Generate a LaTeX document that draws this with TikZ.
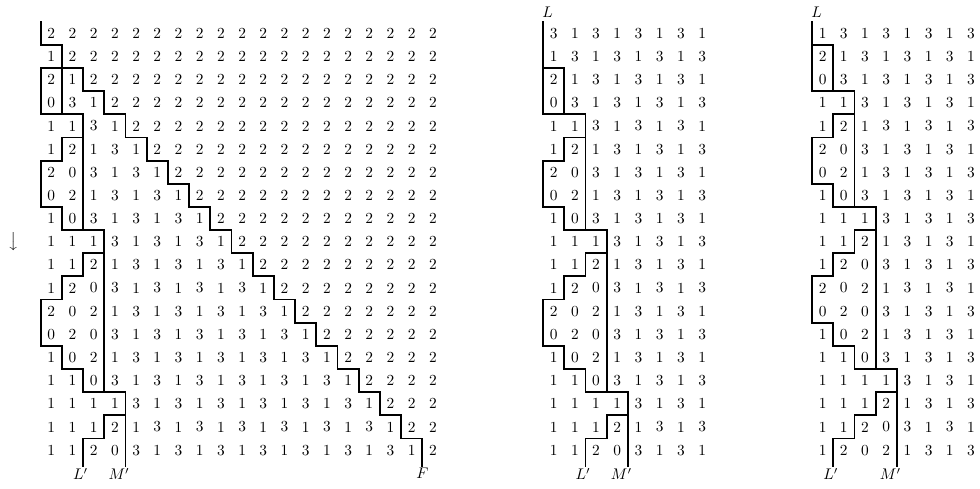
\documentclass[tikz,border=0pt]{standalone}
\begin{document}
\begin{tikzpicture}[x=0.65pt,y=-0.65pt]
\tikzset{
  cell/.style={inner sep=0pt},
  wall/.style={line width=1.2pt, line cap=rect, line join=miter},
  lab/.style={inner sep=0pt},
}
\useasboundingbox (0,0) rectangle (980,488);
\node[inner sep=0pt] (arrow) at (14,241.5) {$\big\downarrow$};

% ---------- left grid ----------
\begin{scope}[shift={(26.455pt,-14.105pt)}, x=13.78pt, y=-15.05pt]
  \foreach \ri in {0,...,18} {
    \foreach \ci in {\ri,...,18} {
      \node[cell] (a-\ri-\ci) at (\ci+0.5,\ri+0.5) {2};
    }
  }
  \foreach \pre [count=\ri from 1] in {{1},{2,1},{0,3,1},{1,1,3,1},{1,2,1,3,1},
     {2,0,3,1,3,1},{0,2,1,3,1,3,1},{1,0,3,1,3,1,3,1},{1,1,1,3,1,3,1,3,1},
     {1,1,2,1,3,1,3,1,3,1},{1,2,0,3,1,3,1,3,1,3,1},{2,0,2,1,3,1,3,1,3,1,3,1},
     {0,2,0,3,1,3,1,3,1,3,1,3,1},{1,0,2,1,3,1,3,1,3,1,3,1,3,1},
     {1,1,0,3,1,3,1,3,1,3,1,3,1,3,1},{1,1,1,1,3,1,3,1,3,1,3,1,3,1,3,1},
     {1,1,1,2,1,3,1,3,1,3,1,3,1,3,1,3,1},{1,1,2,0,3,1,3,1,3,1,3,1,3,1,3,1,3,1}} {
    \foreach \v [count=\ci from 0] in \pre {
      \node[cell] (a-\ri-\ci) at (\ci+0.5,\ri+0.5) {\v};
    }
  }
  \coordinate (aF) at (18,19.2);
  \coordinate (aL) at (2,19.2);
  \coordinate (aM) at (4,19.2);
  \draw[wall] (0,0) \foreach \i in {0,...,17} { -- (\i,\i+1) -- (\i+1,\i+1) } -- (aF);
  \draw[wall] (1,2) -- (1,4) -- (2,4) -- (2,9) -- (3,9) -- (3,16) -- (4,16) -- (aM);
  \draw[wall] (1,2) -- (0,2) -- (0,4) -- (1,4);
  \draw[wall] (2,5) -- (1,5) -- (1,6) -- (0,6) -- (0,8) -- (1,8) -- (1,9) -- (2,9);
  \draw[wall] (3,10) -- (2,10) -- (2,11) -- (1,11) -- (1,12) -- (0,12) -- (0,14)
     -- (1,14) -- (1,15) -- (2,15) -- (2,16) -- (3,16);
  \draw[wall] (4,17) -- (3,17) -- (3,18) -- (2,18) -- (aL);
  \node[lab, anchor=north] (aFl) at ([yshift=-1pt]aF) {$F$};
  \node[lab, anchor=north east] (aLl) at ([xshift=3.4pt,yshift=-1pt]aL) {$L'$};
  \node[lab, anchor=north east] (aMl) at ([xshift=2.8pt,yshift=-1pt]aM) {$M'$};
\end{scope}

% ---------- middle grid ----------
\begin{scope}[shift={(353.0pt,-14.105pt)}, x=13.78pt, y=-15.05pt]
  \foreach \pre [count=\ri from 0] in {{3,1,3,1,3,1,3,1},{1,3,1,3,1,3,1,3},
     {2,1,3,1,3,1,3,1},{0,3,1,3,1,3,1,3},{1,1,3,1,3,1,3,1},{1,2,1,3,1,3,1,3},
     {2,0,3,1,3,1,3,1},{0,2,1,3,1,3,1,3},{1,0,3,1,3,1,3,1},{1,1,1,3,1,3,1,3},
     {1,1,2,1,3,1,3,1},{1,2,0,3,1,3,1,3},{2,0,2,1,3,1,3,1},{0,2,0,3,1,3,1,3},
     {1,0,2,1,3,1,3,1},{1,1,0,3,1,3,1,3},{1,1,1,1,3,1,3,1},{1,1,1,2,1,3,1,3},
     {1,1,2,0,3,1,3,1}} {
    \foreach \v [count=\ci from 0] in \pre {
      \node[cell] (b-\ri-\ci) at (\ci+0.5,\ri+0.5) {\v};
    }
  }
  \coordinate (bT) at (0,0);
  \coordinate (bL) at (2,19.2);
  \coordinate (bM) at (4,19.2);
  \draw[wall] (bT) -- (0,4) -- (2,4) -- (2,9) -- (3,9) -- (3,16) -- (4,16) -- (bM);
  \draw[wall] (0,2) -- (1,2) -- (1,4);
  \draw[wall] (2,5) -- (1,5) -- (1,6) -- (0,6) -- (0,8) -- (1,8) -- (1,9) -- (2,9);
  \draw[wall] (3,10) -- (2,10) -- (2,11) -- (1,11) -- (1,12) -- (0,12) -- (0,14)
     -- (1,14) -- (1,15) -- (2,15) -- (2,16) -- (3,16);
  \draw[wall] (4,17) -- (3,17) -- (3,18) -- (2,18) -- (bL);
  \node[lab, anchor=south west] (bTl) at ([xshift=-0.7pt,yshift=2.6pt]bT) {$L$};
  \node[lab, anchor=north east] (bLl) at ([xshift=3.4pt,yshift=-1pt]bL) {$L'$};
  \node[lab, anchor=north east] (bMl) at ([xshift=2.8pt,yshift=-1pt]bM) {$M'$};
\end{scope}

% ---------- right grid ----------
\begin{scope}[shift={(527.8pt,-14.105pt)}, x=13.78pt, y=-15.05pt]
  \foreach \pre [count=\ri from 0] in {{1,3,1,3,1,3,1,3},
     {2,1,3,1,3,1,3,1},{0,3,1,3,1,3,1,3},{1,1,3,1,3,1,3,1},{1,2,1,3,1,3,1,3},
     {2,0,3,1,3,1,3,1},{0,2,1,3,1,3,1,3},{1,0,3,1,3,1,3,1},{1,1,1,3,1,3,1,3},
     {1,1,2,1,3,1,3,1},{1,2,0,3,1,3,1,3},{2,0,2,1,3,1,3,1},{0,2,0,3,1,3,1,3},
     {1,0,2,1,3,1,3,1},{1,1,0,3,1,3,1,3},{1,1,1,1,3,1,3,1},{1,1,1,2,1,3,1,3},
     {1,1,2,0,3,1,3,1},{1,2,0,2,1,3,1,3}} {
    \foreach \v [count=\ci from 0] in \pre {
      \node[cell] (c-\ri-\ci) at (\ci+0.5,\ri+0.5) {\v};
    }
  }
  \coordinate (cT) at (0,0);
  \coordinate (cL) at (1,19.2);
  \coordinate (cM) at (4,19.2);
  \draw[wall] (cT) -- (0,3) -- (2,3) -- (2,8) -- (3,8) -- (3,15) -- (4,15) -- (cM);
  \draw[wall] (0,1) -- (1,1) -- (1,3);
  \draw[wall] (2,4) -- (1,4) -- (1,5) -- (0,5) -- (0,7) -- (1,7) -- (1,8) -- (2,8);
  \draw[wall] (3,9) -- (2,9) -- (2,10) -- (1,10) -- (1,11) -- (0,11) -- (0,13)
     -- (1,13) -- (1,14) -- (2,14) -- (2,15) -- (3,15);
  \draw[wall] (4,16) -- (3,16) -- (3,17) -- (2,17) -- (2,18) -- (1,18) -- (cL);
  \node[lab, anchor=south west] (cTl) at ([xshift=-0.7pt,yshift=2.6pt]cT) {$L$};
  \node[lab, anchor=north east] (cLl) at ([xshift=3.4pt,yshift=-1pt]cL) {$L'$};
  \node[lab, anchor=north east] (cMl) at ([xshift=2.8pt,yshift=-1pt]cM) {$M'$};
\end{scope}
\end{tikzpicture}
\end{document}
